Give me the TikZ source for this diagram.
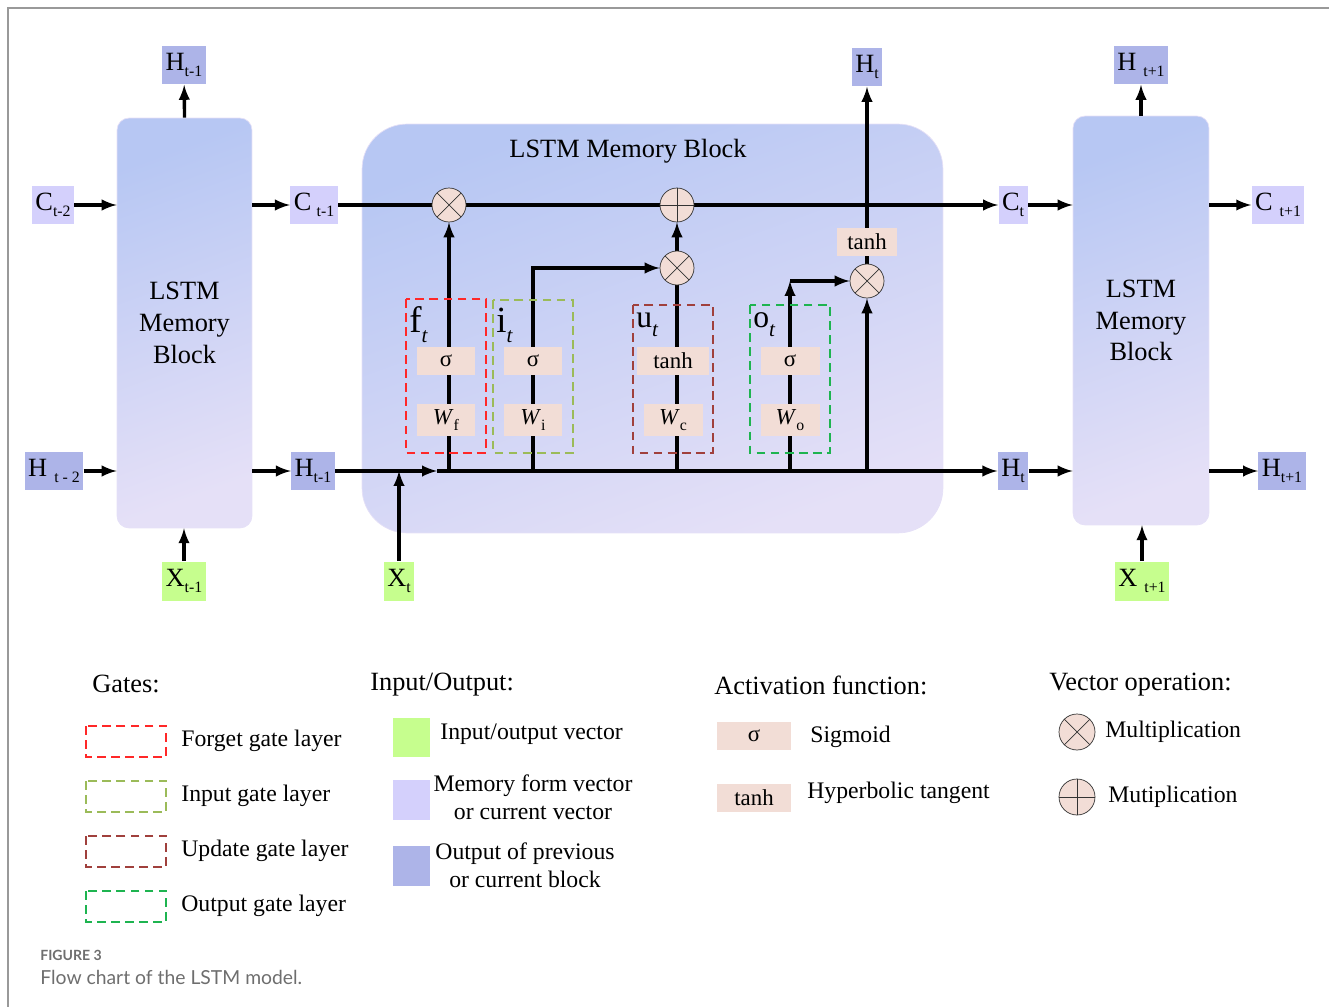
\documentclass[tikz,border=0pt]{standalone}
\usepackage{fontspec}
\setmainfont{Liberation Serif}
\newfontfamily\capfont{Lato}
\pgfdeclarelayer{back}
\pgfdeclarelayer{wires}
\pgfsetlayers{back,wires,main}

\definecolor{outblue}{RGB}{173,180,232}
\definecolor{memlav}{RGB}{212,208,252}
\definecolor{iogreen}{RGB}{198,254,142}
\definecolor{actpink}{RGB}{242,221,214}
\definecolor{blktop}{RGB}{183,199,243}
\definecolor{blkbot}{RGB}{229,224,247}
\definecolor{fgred}{RGB}{255,40,40}
\definecolor{igreen}{RGB}{155,187,89}
\definecolor{ubrown}{RGB}{160,64,60}
\definecolor{ogreen}{RGB}{30,180,80}
\definecolor{capgray}{RGB}{110,110,110}

\newcommand\sbs[1]{\raisebox{-0.5ex}{\fontsize{9}{9}\selectfont #1}}

\tikzset{
  arr/.style={line width=1.9pt,-latex},
  wire/.style={line width=1.9pt},
  vec/.style={inner sep=2pt,minimum height=0.78cm,font=\fontsize{15}{15}\selectfont},
  outv/.style={vec,fill=outblue},
  memv/.style={vec,fill=memlav},
  inv/.style={vec,fill=iogreen},
  act/.style={fill=actpink,inner xsep=0.2cm,minimum width=1.18cm,minimum height=0.56cm,font=\fontsize{13}{13}\selectfont},
  mul/.style={circle,draw=black!80,thin,fill=actpink,minimum size=0.68cm,inner sep=0pt,
    path picture={\draw[black!80] (path picture bounding box.north west) -- (path picture bounding box.south east)
      (path picture bounding box.south west) -- (path picture bounding box.north east);}},
  add/.style={circle,draw=black!80,thin,fill=actpink,minimum size=0.68cm,inner sep=0pt,
    path picture={\draw[black!80] (path picture bounding box.north) -- (path picture bounding box.south)
      (path picture bounding box.west) -- (path picture bounding box.east);}},
  blk/.style={rounded corners=0.24cm,top color=blktop,bottom color=blkbot,shading angle=20,
    draw=blkbot,thin,align=center,font=\fontsize{15}{18}\selectfont},
  gatebox/.style={line width=0.8pt,dash pattern=on 5pt off 3pt},
  lgtxt/.style={anchor=west,inner sep=0pt,font=\fontsize{13.5}{16}\selectfont},
  hdr/.style={anchor=west,inner sep=0pt,font=\fontsize{15}{15}\selectfont},
}

\begin{document}
\begin{tikzpicture}[x=0.02cm,y=-0.02cm]
\useasboundingbox (0,0) rectangle (1329,1007);
\draw[gray!80,line width=0.8pt] (8,1007) -- (8,8) -- (1329,8);

% blocks
\begin{pgfonlayer}{back}
\node[blk,minimum width=2.7cm,minimum height=8.2cm] (blkA) at (184.5,323) {LSTM\\Memory\\Block};
\node[blk,rounded corners=0.9cm,minimum width=11.62cm,minimum height=8.18cm] (blkB) at (652.5,328.5) {};
\node[blk,minimum width=2.72cm,minimum height=8.18cm] (blkC) at (1141,320.5) {LSTM\\Memory\\Block};
\end{pgfonlayer}
\node[font=\fontsize{15}{15}\selectfont] (ttl) at (628,151) {LSTM Memory Block};

% vectors
\node[outv] (ht1up) at (184,65) {H\sbs{t-1}};
\node[memv] (ct2) at (53,205) {C\sbs{t-2}};
\node[memv] (ct1) at (314,205) {C\hspace{3pt}\sbs{t-1}};
\node[outv] (ht2) at (54,471) {H\hspace{4pt}\sbs{t - 2}};
\node[outv] (ht1) at (313,471) {H\sbs{t-1}};
\node[inv] (xt1) at (184,581) {X\sbs{t-1}};
\node[inv] (xt) at (399,581) {X\sbs{t}};
\node[outv] (htup) at (867,67) {H\sbs{t}};
\node[memv] (ct) at (1013,205) {C\sbs{t}};
\node[outv] (ht) at (1013,471) {H\sbs{t}};
\node[outv] (hnup) at (1141,65) {H\hspace{4pt}\sbs{t+1}};
\node[memv] (cn) at (1278,205) {C\hspace{4pt}\sbs{t+1}};
\node[outv] (hn) at (1282,471) {H\sbs{t+1}};
\node[inv] (xn) at (1142,581) {X\hspace{4pt}\sbs{t+1}};

% operations
\node[mul] (mul1) at (449,205) {};
\node[add] (add1) at (677,205) {};
\node[mul] (mul2) at (677,268) {};
\node[mul] (mul3) at (867,281) {};
\node[act] (tc) at (867,242) {tanh};
\coordinate (hmid) at (437,471);

% gates
\foreach \gn/\gx/\gy/\gc/\ga/\gw/\gs/\gf in {f/446/299/fgred/σ/1.18/f/21, i/533/300/igreen/σ/1.18/i/21,
    u/673/305/ubrown/tanh/1.44/c/18, o/790/305/ogreen/σ/1.18/o/18} {
  \draw[\gc,gatebox] (\gx-40,\gy) rectangle (\gx+40,453);
  \node[act,minimum width=\gw cm] (a\gn) at (\gx,361) {\ga};
  \node[act,minimum height=0.62cm] (w\gn) at (\gx,420) {\textit{W}\sbs{\gs}};
  \node[anchor=west,inner sep=0pt] (l\gn) at (\gx-37,325) {\fontsize{\gf}{\gf}\selectfont\gn\raisebox{-0.6ex}{\fontsize{12}{12}\selectfont\itshape t}};
}

\begin{pgfonlayer}{wires}
\draw[arr] (xt1) -- (xt1 |- blkA.south);
\draw[arr] (blkA.north) -- (ht1up);
\draw[arr] (ct2) -- (ct2 -| blkA.west);
\draw[arr] (ct2 -| blkA.east) -- (ct1);
\draw[arr] (ht2) -- (ht2 -| blkA.west);
\draw[arr] (ht2 -| blkA.east) -- (ht1);
\draw[wire] (ct1) -- (mul1) -- (add1);
\draw[arr] (add1) -- (ct);
\draw[arr] (ht1) -- (hmid);
\draw[arr] (hmid) -- (ht);
\draw[arr] (xt) -- (xt |- ht1);
\draw[arr] (mul1 |- ht1) -- (mul1);
\draw[arr] (ai |- ht1) |- (mul2);
\draw[wire] (mul2 |- ht1) -- (mul2);
\draw[arr] (mul2) -- (add1);
\draw[arr] (ao |- ht1) -- (ao |- mul3);
\draw[arr] (ao |- mul3) -- (mul3);
\draw[arr] (mul3 |- ht1) -- (mul3);
\draw[wire] (mul3) -- (tc);
\draw[arr] (tc) -- (htup);
\draw[arr] (ct) -- (ct -| blkC.west);
\draw[arr] (ht) -- (ht -| blkC.west);
\draw[arr] (blkC.north) -- (hnup);
\draw[arr] (ct -| blkC.east) -- (cn);
\draw[arr] (ht -| blkC.east) -- (hn);
\draw[arr] (xn) -- (xn |- blkC.south);
\end{pgfonlayer}

% legend
\node[hdr] (hgate) at (92,684) {Gates:};
\foreach \gc/\gt [count=\k] in {fgred/Forget gate layer, igreen/Input gate layer,
    ubrown/Update gate layer, ogreen/Output gate layer} {
  \draw[\gc,gatebox] (86,{726+55*(\k-1)}) rectangle (166,{757+55*(\k-1)});
  \node[lgtxt] (lg\k) at (181,{741+55*(\k-1)}) {\gt};
}
\node[hdr] (hio) at (370,685) {Input/Output:};
\node[fill=iogreen,minimum width=0.74cm,minimum height=0.78cm] (sqA) at (411.5,737.5) {};
\node[fill=memlav,minimum width=0.74cm,minimum height=0.8cm] (sqB) at (411.5,800) {};
\node[fill=outblue,minimum width=0.74cm,minimum height=0.8cm] (sqC) at (411.5,866) {};
\node[lgtxt] (tA) at (440,734) {Input/output vector};
\node[lgtxt,anchor=center,align=center] (tB) at (533,797) {Memory form vector\\or current vector};
\node[lgtxt,anchor=center,align=center] (tC) at (525,865) {Output of previous\\or current block};
\node[hdr] (hact) at (714,685) {Activation function:};
\node[act,minimum width=1.48cm] (lsig) at (754,736) {σ};
\node[act,minimum width=1.48cm] (ltanh) at (754,798) {tanh};
\node[lgtxt] (tsig) at (810,737) {Sigmoid};
\node[lgtxt] (ttanh) at (807,793) {Hyperbolic tangent};
\node[hdr] (hop) at (1049,685) {Vector operation:};
\node[mul,minimum size=0.72cm] (lmul) at (1077,732) {};
\node[add,minimum size=0.72cm] (ladd) at (1077,797) {};
\node[lgtxt] (tmul) at (1105,732) {Multiplication};
\node[lgtxt] (tadd) at (1108,797) {Mutiplication};

% caption
\node[anchor=west,inner sep=0pt,text=capgray,font=\capfont\bfseries\fontsize{8}{8}\selectfont] (fig) at (40,955) {FIGURE 3};
\node[anchor=west,inner sep=0pt,text=capgray,font=\capfont\fontsize{11}{11}\selectfont] (cap) at (40,977) {Flow chart of the LSTM model.};
\end{tikzpicture}
\end{document}
